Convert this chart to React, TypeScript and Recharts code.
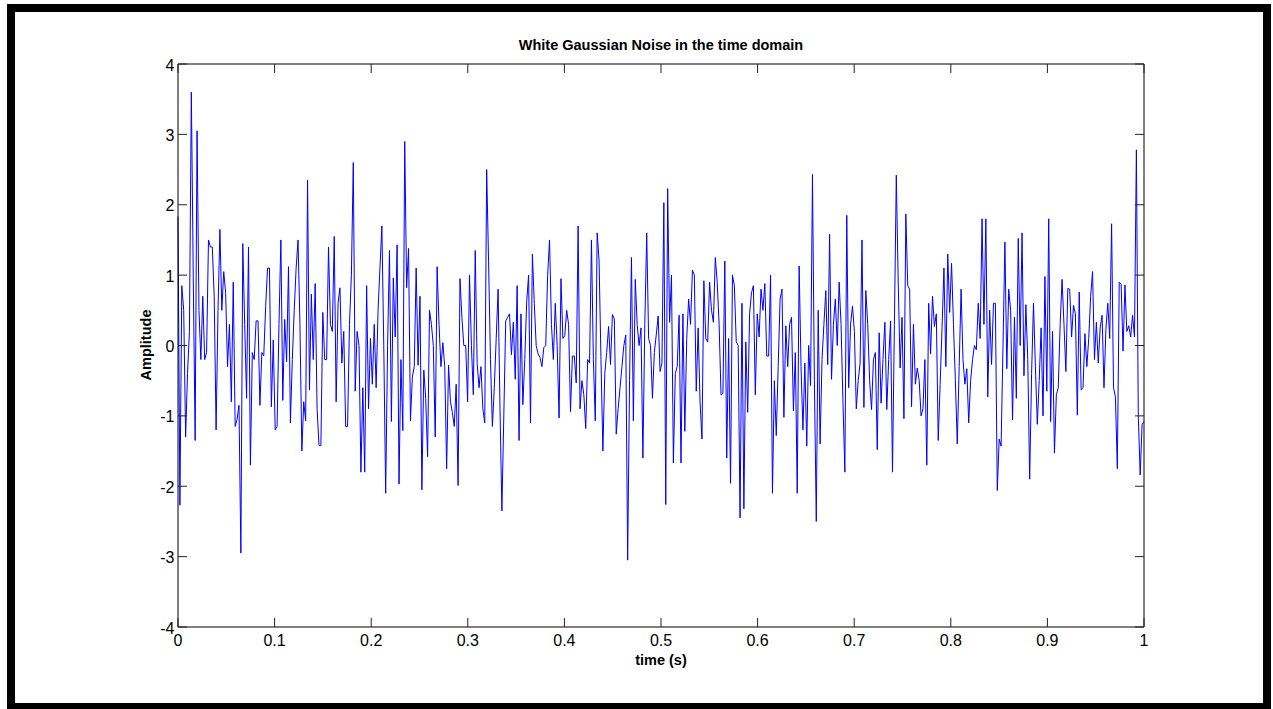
import React from "react";
import { LineChart, Line, XAxis, YAxis, ReferenceLine } from "recharts";

// samples, one array per ~0.1 s stretch
const seg1 = [
  1.83, -2.27, 0.85, 0.5, -1.3, -0.4, 0.2, 3.6, 1.0, -1.35, 3.05, 0.5, -0.2, 0.7, -0.2, -0.1, 1.5, 1.4, 1.4, 0.7,
  -1.2, 0.5, 1.65, 0.5, 1.05, 0.75, -0.3, 0.3, -0.8, 0.9, -1.15, -1.05, -0.85, -2.95, 1.45, 0.3, -0.75, 1.4, -1.7, -0.1,
  -0.2, 0.35, 0.35, -0.85, -0.1, -0.15, 0.55, 1.1, 1.1,
];
const seg2 = [
  -0.87, 0.08, -1.2, -1.15, 0.3, 1.5, -0.78, 0.37, -0.23, 1.12, -1.1, -0.2, 0.5, 1.1, 1.5, 0.3, -1.5, -0.8, -1.07, 2.35,
  -0.63, 0.73, -0.2, 0.88, -0.9, -1.42, -1.42, 0.47, -0.2, -0.2, 1.4, 0.3, 0.2, 1.55, -0.8, 0.6, 0.82, -0.25, 0.2, -1.15,
  -1.15, 0.3, 1.0, 2.6, -0.65, 0.2, 0.0, -1.8, -0.6, -1.8,
];
const seg3 = [
  0.85, -0.9, 0.1, -0.55, 0.3, -0.6, 0.5, 1.1, 1.7, 0.0, -2.1, 0.0, 1.35, -1.08, 0.96, 0.12, 1.43, -1.97, -0.2, -1.21,
  2.9, 0.82, 1.38, -1.07, -0.45, -0.3, 1.1, -0.28, 0.7, -2.05, -0.35, -0.75, -1.58, 0.5, 0.3, 0.0, -1.3, 1.12, 0.3, -0.3,
  0.04, -0.3, -1.75, -0.28, -0.8, -0.95, -1.15, -0.55, -1.99, 0.95,
];
const seg4 = [
  0.4, 0.0, 0.0, -0.8, 1.0, 0.0, -0.7, 1.35, -0.25, -0.6, -0.3, -0.9, -1.1, 2.5, 1.2, -0.2, -1.15, -0.6, 0.1, 0.8,
  -0.9, -2.35, -1.0, 0.35, 0.4, 0.45, -0.13, 0.33, -0.48, 0.85, -1.35, 0.45, -0.84, -0.2, 0.62, 1.0, -1.1, 1.3, 0.6, 0.0,
  -0.12, -0.17, -0.3, -0.03, 0.0, 1.0, 1.5, 0.3, -0.2, 0.6,
];
const seg5 = [
  0.0, -1.03, 0.95, 0.1, 0.14, 0.5, 0.3, -0.94, -0.15, -0.15, -0.53, 1.7, -0.9, -0.5, -0.7, -1.18, -0.2, -0.25, 1.5, -0.2,
  -1.07, 1.6, 1.2, -0.2, -1.5, -0.4, -0.1, 0.27, -0.27, 0.44, 0.38, -1.26, -0.9, -0.6, -0.3, 0.0, 0.15, -3.05, -0.5, 1.25,
  -1.07, 0.94, 0.3, 0.0, 0.25, -1.6, 0.3, 1.6, 0.1, 0.0, -0.75,
];
const seg6 = [
  -0.1, 0.15, 0.42, -0.37, -0.25, 2.03, -2.26, 2.23, 0.33, 1.0, -1.67, -0.4, -0.3, 0.43, -1.67, 0.45, -1.22, 0.1, 0.66, 0.3,
  1.07, 1.0, -0.65, 0.25, -0.8, -1.33, 0.92, 0.1, 0.05, 0.9, 0.5, 0.33, 1.25, 0.9, 0.3, -0.7, -0.68, 1.2, -1.6, 0.1,
  -1.96, 1.0, 0.85, 0.05, 0.0, -2.45, 0.6, -2.32, 0.05,
];
const seg7 = [
  -0.95, 0.45, 0.75, 0.85, -0.7, 0.45, 0.12, 0.8, 0.5, 0.88, -0.15, -0.15, 1.0, -2.1, -0.5, -1.28, -0.3, 0.66, 0.8, -1.02,
  0.28, -0.3, 0.3, 0.4, -0.93, -0.1, -2.1, 1.13, -0.3, -1.2, -0.25, -1.43, 0.0, -0.57, 2.43, -0.5, -2.5, 0.5, -1.4, -0.2,
  0.3, 0.78, -0.27, 1.58, -0.48, 0.3, 0.66, 0.0, 0.9,
];
const seg8 = [
  0.3, -0.8, -1.8, 1.85, -0.6, 0.3, 0.56, 0.2, -0.9, -0.5, -0.25, 1.5, -0.88, 0.78, 0.3, -0.5, -0.91, -0.2, -0.1, -1.48,
  0.18, -0.82, -0.2, 0.33, -0.91, -0.2, 0.35, -1.8, 0.3, 2.42, 0.9, -0.32, 0.4, -1.04, 1.87, 0.85, 0.8, -0.87, 0.3, -0.55,
  -0.32, -0.5, -1.0, -0.9, -0.2, -1.7, 0.6, -0.12, 0.7, 0.27, 0.45,
];
const seg9 = [
  -1.35, -0.55, 0.25, 1.1, -0.3, 1.3, 0.47, 1.17, 0.3, -0.5, -1.4, -0.3, 0.8, -0.2, -0.55, -0.33, -1.1, -0.5, -0.2, 0.0,
  -0.06, 0.6, 0.1, 1.8, 0.3, 1.8, -0.73, 0.5, -0.27, 0.6, 0.6, -2.06, -1.33, -1.43, 0.0, 1.47, -0.33, 0.8, 0.5, -1.06,
  0.4, -0.75, 1.52, 0.0, 1.6, -0.43, 0.58, -0.2, -1.9,
];
const seg10 = [
  -0.4, 0.6, -0.3, -1.12, -0.5, 0.25, -1.0, 0.98, -0.65, 1.8, -1.08, 0.2, -1.53, -0.7, -0.6, 0.3, 0.94, 0.3, -0.37, 0.81,
  0.8, 0.12, 0.57, 0.45, -0.99, 0.76, -0.63, -0.6, 0.17, -0.3, 0.1, 0.7, 1.05, -0.2, 0.33, -0.25, 0.25, 0.43, -0.6, 0.23,
  0.6, 0.1, 1.73, -0.6, -0.73, -1.75, 0.9, 0.87, -0.08, 0.86, 0.2, 0.28, 0.12, 0.43, 0.12, 2.78, -1.0, -1.84, -1.12, -1.08,
];

const xTicks = [0, 0.1, 0.2, 0.3, 0.4, 0.5, 0.6, 0.7, 0.8, 0.9, 1];
const yTicks = [-4, -3, -2, -1, 0, 1, 2, 3, 4];

const noise = [...seg1, ...seg2, ...seg3, ...seg4, ...seg5, ...seg6, ...seg7, ...seg8, ...seg9, ...seg10];
const data = noise.map((v, i) => ({ t: i / (noise.length - 1), v }));

const FONT = '"Liberation Sans", Arial, sans-serif';

// plot box edges (matlab-style inner ticks on all four sides)
const LEFT = 178;
const RIGHT = 1144;
const TOP = 64;
const BOTTOM = 627;
const TICK = 9;

function XTick(props: any) {
  const { x, payload } = props;
  return (
    <g>
      <line x1={x} x2={x} y1={BOTTOM} y2={BOTTOM - TICK} stroke="#222" />
      <line x1={x} x2={x} y1={TOP} y2={TOP + TICK} stroke="#222" />
      <text x={x} y={BOTTOM + 19} textAnchor="middle" fontSize={16} fontFamily={FONT} fill="#000">
        {payload.value}
      </text>
    </g>
  );
}

function YTick(props: any) {
  const { y, payload } = props;
  return (
    <g>
      <line x1={LEFT} x2={LEFT + TICK} y1={y} y2={y} stroke="#222" />
      <line x1={RIGHT} x2={RIGHT - TICK} y1={y} y2={y} stroke="#222" />
      <text x={LEFT - 3.5} y={y + 6.5} textAnchor="end" fontSize={16} fontFamily={FONT} fill="#000">
        {payload.value}
      </text>
    </g>
  );
}

const labelStyle: React.CSSProperties = {
  position: "absolute",
  fontFamily: FONT,
  fontWeight: "bold",
  fontSize: 14.5,
  lineHeight: "16px",
  whiteSpace: "nowrap",
};

export default function App() {
  return (
    <div style={{ position: "absolute", left: 0, top: 0, width: 1273, height: 709, background: "#fff", overflow: "hidden" }}>
      <div
        style={{
          position: "absolute",
          left: 7,
          top: 4,
          width: 1264,
          height: 707,
          border: "8px solid #000",
          boxSizing: "border-box",
        }}
      />
      <LineChart width={1273} height={709} data={data} margin={{ top: TOP, right: 1273 - RIGHT, bottom: 52, left: LEFT - 50 }}>
        <XAxis
          dataKey="t"
          type="number"
          domain={[0, 1]}
          ticks={xTicks}
          tickLine={false}
          stroke="#000"
          tick={<XTick />}
          height={30}
          interval={0}
        />
        <YAxis
          type="number"
          domain={[-4, 4]}
          ticks={yTicks}
          tickLine={false}
          stroke="#000"
          tick={<YTick />}
          width={50}
          interval={0}
        />
        <ReferenceLine y={4} stroke="#000" strokeWidth={1} />
        <ReferenceLine x={1} stroke="#000" strokeWidth={1} />
        <Line
          type="linear"
          dataKey="v"
          stroke="#0000ff"
          strokeWidth={1}
          dot={false}
          isAnimationActive={false}
        />
      </LineChart>
      <div style={{ ...labelStyle, left: LEFT, width: RIGHT - LEFT, top: 37, textAlign: "center" }}>
        White Gaussian Noise in the time domain
      </div>
      <div style={{ ...labelStyle, left: LEFT, width: RIGHT - LEFT, top: 652, textAlign: "center" }}>time (s)</div>
      <div
        style={{
          ...labelStyle,
          left: 146,
          top: 345,
          transform: "translate(-50%, -50%) rotate(-90deg)",
        }}
      >
        Amplitude
      </div>
    </div>
  );
}
